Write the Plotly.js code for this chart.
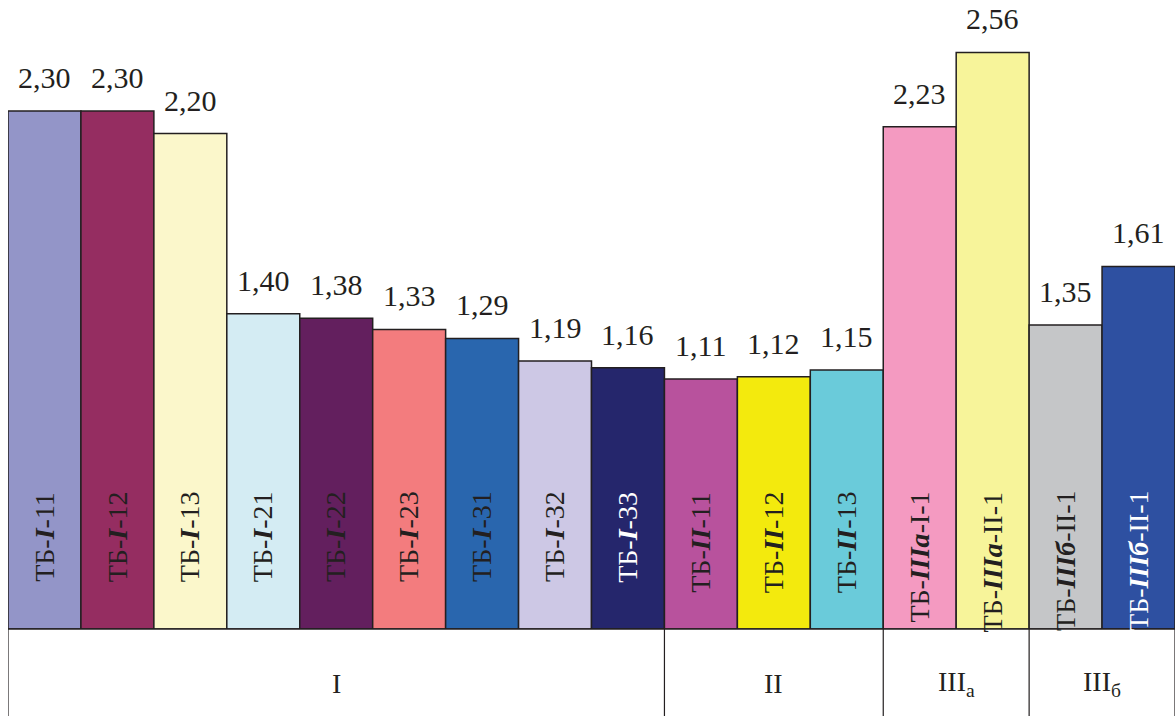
<!DOCTYPE html>
<html>
<head>
<meta charset="utf-8">
<script src="https://cdn.plot.ly/plotly-3.0.1.min.js"></script>
<style>html,body{margin:0;padding:0;background:#fff;}#chart{width:1175px;height:716px;}</style>
</head>
<body>
<div id="chart"></div>
<script>
// ---- data ----
var codes = ["I","I","I","I","I","I","I","I","I","II","II","II","IIIа","IIIа","IIIб","IIIб"];
var suffixes = ["11","12","13","21","22","23","31","32","33","11","12","13","I-1","II-1","II-1","II-1"];
var values = [2.30,2.30,2.20,1.40,1.38,1.33,1.29,1.19,1.16,1.11,1.12,1.15,2.23,2.56,1.35,1.61];
var groups = ["I","II","III<sub>а</sub>","III<sub>б</sub>"];
var groupSizes = [9,3,2,2];

// ---- styles ----
var colors = ["#9395C8","#952D61","#FBF7CB","#D4ECF3","#631F5E","#F37C7E","#2966AE","#CDC8E5",
              "#25266C","#B8529D","#F3EA0D","#6ACBDA","#F49AC1","#F7F49A","#C5C6C8","#2E50A1"];
var labelColors = values.map(function(v,i){ return (i===8||i===15) ? "#FFFFFF" : "#231F20"; });
var serif = "Liberation Serif";

var idx = values.map(function(v,i){ return i; });

var trace = {
  type: "bar",
  x: idx,
  y: values,
  marker: {color: colors, line: {color: "#231F20", width: 1.5}},
  hoverinfo: "none"
};

var annotations = [];
values.forEach(function(v,i){
  annotations.push({
    x: i, y: v, xref: "x", yref: "y",
    text: v.toFixed(2).replace(".", ","),
    showarrow: false, yanchor: "bottom", xanchor: "center", yshift: 15,
    font: {family: serif, size: 30, color: "#231F20"}
  });
  annotations.push({
    x: i, y: 0.222, xref: "x", yref: "paper",
    text: "ТБ-<b><i>" + codes[i] + "</i></b>-" + suffixes[i],
    textangle: -90, showarrow: false, yanchor: "top", xanchor: "center",
    font: {family: serif, size: 28, color: labelColors[i]}
  });
});

var shapes = [];
var start = -0.5;
var bottomY = -0.14;
shapes.push({type:"line", xref:"x", yref:"paper", x0:-0.5, x1:15.5, y0:0, y1:0, line:{color:"#231F20", width:1.5}});
shapes.push({type:"line", xref:"x", yref:"paper", x0:-0.5, x1:-0.5, y0:0, y1:bottomY, line:{color:"#231F20", width:1.2}});
groups.forEach(function(g,k){
  var end = start + groupSizes[k];
  annotations.push({
    x: (start + end)/2, y: -0.086, xref: "x", yref: "paper",
    text: g, showarrow: false, yanchor: "middle", xanchor: "center",
    font: {family: serif, size: 28, color: "#231F20"}
  });
  shapes.push({type:"line", xref:"x", yref:"paper", x0:end, x1:end, y0:0, y1:bottomY, line:{color:"#231F20", width:1.2}});
  start = end;
});

var layout = {
  width: 1175, height: 716,
  margin: {l: 8, r: 0, t: 0, b: 87, pad: 0},
  paper_bgcolor: "#FFFFFF", plot_bgcolor: "#FFFFFF",
  bargap: 0,
  showlegend: false,
  font: {family: serif},
  xaxis: {range: [-0.5, 15.5], showticklabels: false, ticks: "", showgrid: false, zeroline: false, showline: false, fixedrange: true},
  yaxis: {range: [0, 2.793], showticklabels: false, ticks: "", showgrid: false, zeroline: false, showline: false, fixedrange: true},
  annotations: annotations,
  shapes: shapes
};

Plotly.newPlot("chart", [trace], layout, {displayModeBar: false, staticPlot: true});
</script>
</body>
</html>
